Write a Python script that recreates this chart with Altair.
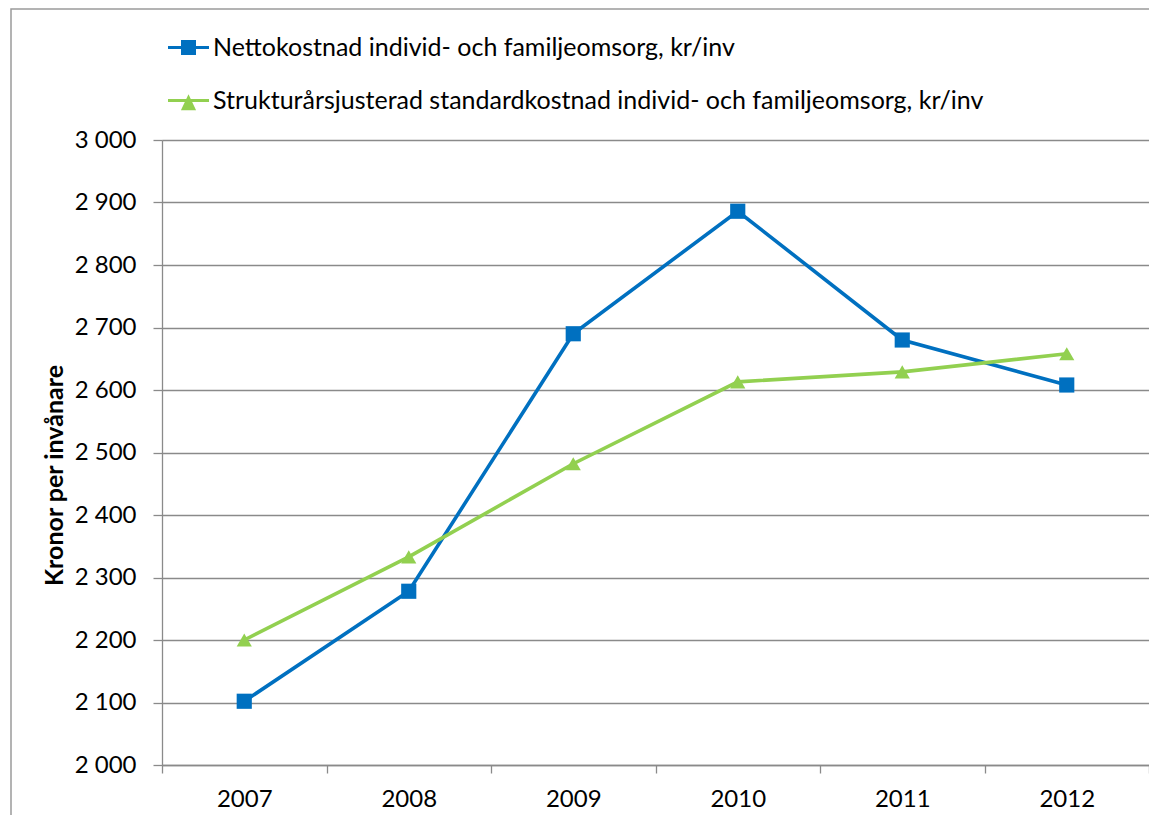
import altair as alt
import pandas as pd

years = ["2007", "2008", "2009", "2010", "2011", "2012"]
netto = [2102, 2278, 2690, 2886, 2680, 2608]
struktur = [2200, 2333, 2482, 2613, 2629, 2658]
series_names = [
    "Nettokostnad individ- och familjeomsorg, kr/inv",
    "Strukturårsjusterad standardkostnad individ- och familjeomsorg, kr/inv",
]
colors = ["#0070C0", "#92D050"]
marker_shapes = ["square", "triangle-up"]
legend_shapes = [
    "M-1,-0.075H1V0.075H-1Z M-0.366,-0.36H0.366V0.37H-0.366Z",
    "M-1,-0.075H1V0.075H-1Z M0,-0.3L0.37,0.47L-0.37,0.47Z",
]
y_ticks = [2000, 2100, 2200, 2300, 2400, 2500, 2600, 2700, 2800, 2900, 3000]
y_title = "Kronor per invånare"

rows = []
for s, vals in zip(series_names, [netto, struktur]):
    for yr, v in zip(years, vals):
        rows.append({"year": yr, "value": v, "series": s})
df = pd.DataFrame(rows)

W, H = 987, 625
GRID = "#8a8a8a"
FONT = "Lato"

x_enc = alt.X(
    "year:N",
    sort=years,
    scale=alt.Scale(type="band", paddingInner=0, paddingOuter=0),
    axis=alt.Axis(
        title=None, tickBand="extent", grid=False, labelAngle=0,
        labelFont=FONT, labelFontSize=24, labelColor="#000000", labelPadding=14,
        tickSize=8, tickColor=GRID, tickWidth=1.3, domainColor=GRID, domainWidth=1.3,
    ),
)
y_enc = alt.Y(
    "value:Q",
    scale=alt.Scale(domain=[2000, 3000], nice=False, zero=False),
    axis=alt.Axis(
        values=y_ticks,
        labelExpr="replace(format(datum.value, ','), ',', ' ')",
        labelFont=FONT, labelFontSize=24, labelColor="#000000", labelPadding=17,
        tickSize=9, tickColor=GRID, tickWidth=1.3, domainColor=GRID, domainWidth=1.3,
        grid=True, gridColor=GRID, gridWidth=1.3,
        title=y_title, titleFont=FONT, titleFontSize=25, titleFontWeight="bold",
        titleColor="#000000", titleX=-108, titleY=335, titleAngle=270,
        titleAlign="center", titleBaseline="middle",
    ),
)

leg = alt.Legend(
    title=None, orient="none", legendX=6, legendY=-113, direction="vertical",
    labelFont=FONT, labelFontSize=25, labelColor="#000000", labelOffset=4,
    symbolSize=1681, symbolStrokeWidth=0, symbolOpacity=1, rowPadding=19,
    padding=0, labelLimit=1000,
)

lines = alt.Chart(df).mark_line(strokeWidth=3.6).encode(
    x=x_enc, y=y_enc,
    color=alt.Color("series:N", scale=alt.Scale(domain=series_names, range=colors), legend=None),
)
points = alt.Chart(df).mark_point(filled=True, opacity=1, size=230).encode(
    x=x_enc, y=y_enc,
    color=alt.Color("series:N", scale=alt.Scale(domain=series_names, range=colors), legend=None),
    shape=alt.Shape("series:N", scale=alt.Scale(domain=series_names, range=marker_shapes), legend=None),
)
legend_layer = alt.Chart(df).mark_point(filled=True, opacity=0).encode(
    x=x_enc, y=y_enc,
    color=alt.Color("series:N", scale=alt.Scale(domain=series_names, range=colors), legend=leg),
    shape=alt.Shape("series:N", scale=alt.Scale(domain=series_names, range=legend_shapes), legend=leg),
)

frame_df = pd.DataFrame({"k": [0]})
frame = alt.Chart(frame_df).mark_rect(
    fill="white", fillOpacity=0, stroke="#9a9a9a", strokeWidth=1.5
).encode(
    x=alt.value(-151), x2=alt.value(W + 200),
    y=alt.value(-131), y2=alt.value(H + 200),
)

chart = (
    alt.layer(frame, lines, points, legend_layer)
    .resolve_scale(color="independent", shape="independent")
    .properties(
        width=W, height=H,
        autosize=alt.AutoSizeParams(type="none"),
        padding={"left": 154, "top": 132, "right": 0, "bottom": 50},
    )
    .configure_view(stroke=None)
    .configure(background="white")
)

chart.save("out.html", embed_options={"renderer": "svg", "actions": False})
